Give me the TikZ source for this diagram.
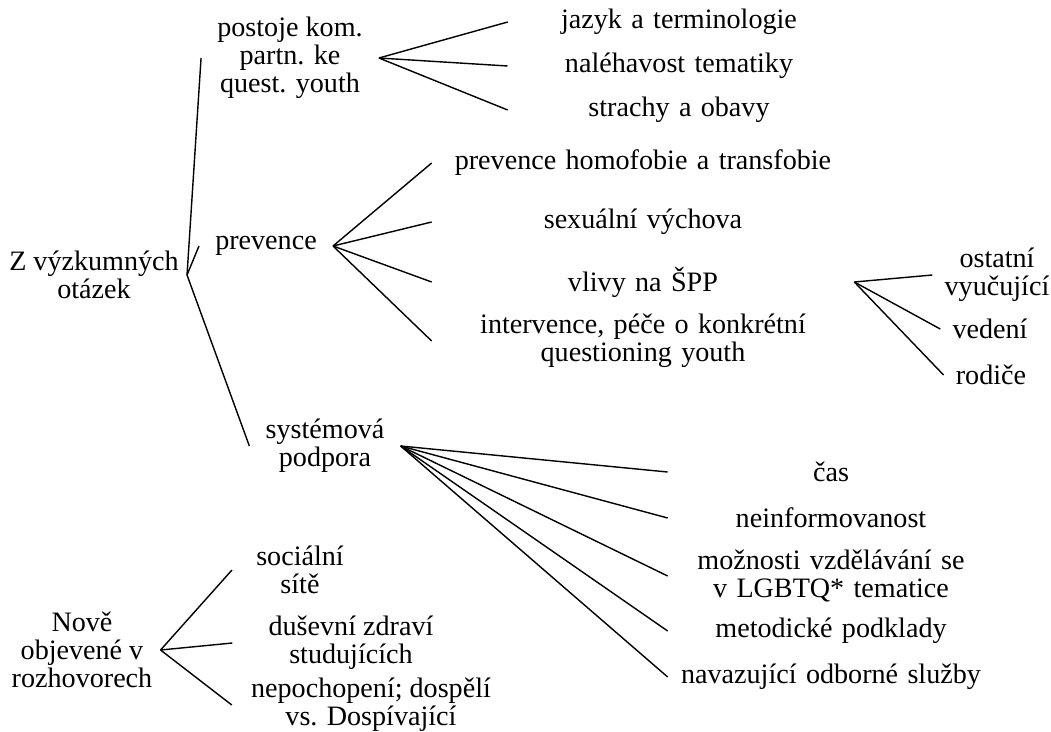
\documentclass[tikz,border=0pt]{standalone}
\usepackage{fontspec}
\setmainfont{Liberation Serif}
\usepackage{tikz}

\tikzset{
  topic/.style={align=center, inner xsep=0.4cm, inner ysep=2pt},
  leaf/.style={align=center, text width=#1, inner xsep=0pt, inner ysep=2pt},
  branch/.style={line width=1pt, black},
}

\begin{document}
\begin{tikzpicture}[x=0.025cm, y=-0.025cm, every node/.style={font=\fontsize{20pt}{20pt}\selectfont}]
    \useasboundingbox (0,0) rectangle (1051,731);
    % research questions
    \node[topic, inner xsep=0.2cm] (root) at (94,275) {Z výzkumných\\otázek};
    \node[topic] (post) at (290,58) {postoje kom.\\partn. ke\\quest. youth};
    \node[topic] (prev) at (266,246) {prevence};
    \node[topic] (sys) at (325,446) {systémová\\podpora};
    \node[leaf=8.55cm] (jaz) at (679,22) {jazyk a terminologie};
    \node[leaf=8.55cm] (nal) at (679,66) {naléhavost tematiky};
    \node[leaf=8.55cm] (str) at (679,110) {strachy a obavy};
    \node[leaf=10.55cm] (hom) at (643,163) {prevence homofobie a transfobie};
    \node[leaf=10.55cm] (sex) at (643,222) {sexuální výchova};
    \node[leaf=10.55cm] (vliv) at (643,282) {vlivy na ŠPP};
    \node[leaf=10.55cm] (int) at (643,341) {intervence, péče o konkrétní\\questioning youth};
    \node[topic, inner xsep=0.3cm] (ost) at (997,275) {ostatní\\vyučující};
    \node[topic, inner xsep=0.3cm] (ved) at (990,329) {vedení};
    \node[topic, inner xsep=0.3cm] (rod) at (991,375) {rodiče};
    \node[leaf=8.15cm] (cas) at (831,472) {čas};
    \node[leaf=8.15cm] (nei) at (831,518) {neinformovanost};
    \node[leaf=8.15cm] (moz) at (831,576) {možnosti vzdělávání se\\v LGBTQ* tematice};
    \node[leaf=8.15cm] (met) at (831,631) {metodické podklady};
    \node[leaf=8.15cm] (nav) at (831,677) {navazující odborné služby};
    % newly found
    \node[topic, inner xsep=0.2cm] (nove) at (82,650) {Nově\\objevené v\\rozhovorech};
    \node[topic, inner xsep=0.6cm] (soc) at (300,570) {sociální\\sítě};
    \node[topic, inner xsep=0.9cm] (dus) at (351,643) {duševní zdraví\\studujících};
    \node[topic, inner xsep=0.475cm] (nep) at (371,705) {nepochopení; dospělí\\vs. Dospívající};

    \foreach \n in {post,prev,sys}
        \draw[branch] (root.east) -- (\n.west);
    \foreach \n in {jaz,nal,str}
        \draw[branch] (post.east) -- (\n.west);
    \foreach \n in {hom,sex,vliv,int}
        \draw[branch] (prev.east) -- (\n.west);
    \foreach \n in {ost,ved,rod}
        \draw[branch] (vliv.east) -- (\n.west);
    \foreach \n in {cas,nei,moz,met,nav}
        \draw[branch] (sys.east) -- (\n.west);
    \foreach \n in {soc,dus,nep}
        \draw[branch] (nove.east) -- (\n.west);
\end{tikzpicture}
\end{document}
